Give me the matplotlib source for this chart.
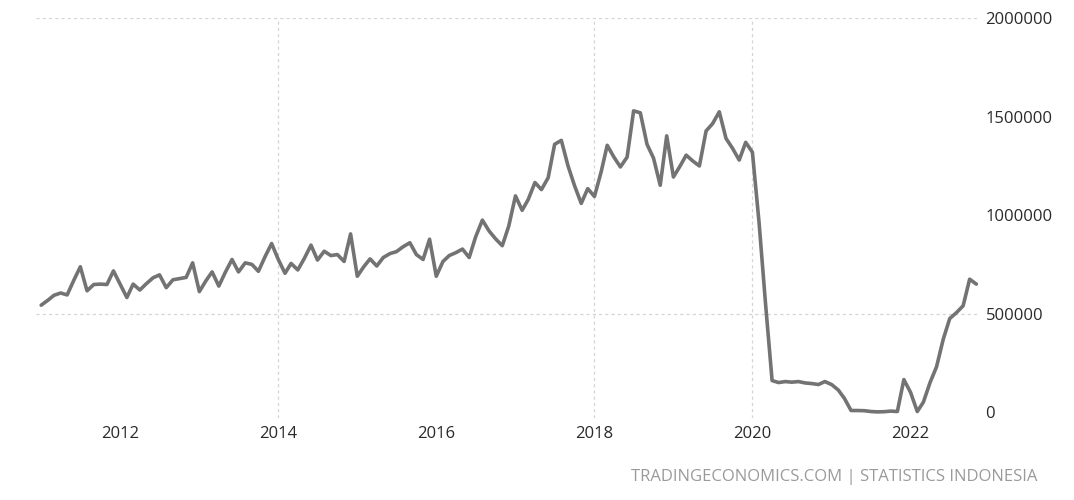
import numpy as np
import pandas as pd
import matplotlib
matplotlib.use('Agg')
import matplotlib.pyplot as plt
import matplotlib.dates as mdates

# monthly arrivals, Jan 2011 - Nov 2022 (thousands)
arrivals_k = [
    543, 568, 593, 605, 595, 670, 738, 616, 648, 650, 648, 717,    # 2011
    650, 582, 650, 620, 652, 682, 697, 632, 672, 678, 684, 758,    # 2012
    612, 668, 712, 640, 710, 775, 712, 758, 750, 715, 790, 856,    # 2013
    775, 705, 755, 722, 780, 848, 772, 817, 795, 800, 765, 905,    # 2014
    690, 740, 778, 742, 785, 805, 815, 840, 860, 800, 775, 878,    # 2015
    690, 765, 795, 810, 828, 785, 890, 975, 920, 880, 845, 945,    # 2016
    1098, 1025, 1080, 1166, 1130, 1190, 1360, 1380, 1250, 1150, 1060, 1135,  # 2017
    1095, 1220, 1355, 1295, 1245, 1295, 1530, 1520, 1360, 1290, 1152, 1403,  # 2018
    1194, 1250, 1305, 1275, 1250, 1428, 1465, 1525, 1390, 1340, 1280, 1370,  # 2019
    1320, 960, 560, 160, 150, 155, 152, 155, 148, 145, 140, 155,   # 2020
    140, 112, 70, 8, 8, 7, 3, 1, 2, 5, 3, 165,                      # 2021
    100, 3, 50, 150, 230, 370, 475, 505, 540, 675, 650,             # 2022
]
dates = pd.date_range('2011-01-01', periods=len(arrivals_k), freq='MS')
values = np.array(arrivals_k) * 1000

y_ticks = [0, 500000, 1000000, 1500000, 2000000]
y_grid = [500000, 2000000]
x_tick_years = [2012, 2014, 2016, 2018, 2020, 2022]
x_grid_years = [2014, 2018, 2020]
source = 'TRADINGECONOMICS.COM | STATISTICS INDONESIA'

plt.rcParams['font.family'] = ['Open Sans', 'DejaVu Sans']

fig = plt.figure(figsize=(10.74, 5.0), dpi=100)
ax = fig.add_axes([0.0335, 0.164, 0.879, 0.7994])

ax.plot(dates, values, color='#737373', lw=2.6, solid_joinstyle='round',
        solid_capstyle='round')

ax.set_ylim(-30000, 2000000)
ax.set_xlim(pd.Timestamp('2010-12-08'), pd.Timestamp('2022-11-18'))

ax.set_yticks(y_ticks)
ax.set_yticklabels([str(v) for v in y_ticks])
ax.yaxis.tick_right()
ax.set_xticks([pd.Timestamp(f'{y}-01-01') for y in x_tick_years])
ax.xaxis.set_major_formatter(mdates.DateFormatter('%Y'))
ax.tick_params(axis='both', length=0, labelsize=12, labelcolor='#2a2a2a')
ax.tick_params(axis='x', pad=6)
ax.tick_params(axis='y', pad=4)
for lab in ax.get_yticklabels():
    lab.set_horizontalalignment('left')

for s in ax.spines.values():
    s.set_visible(False)

for g in y_grid:
    ax.axhline(g, color='#d4d4d4', lw=0.9, ls=(0, (2.5, 2.5)), zorder=0)
for yr in x_grid_years:
    ax.axvline(pd.Timestamp(f'{yr}-01-01'), color='#d4d4d4', lw=0.9,
               ls=(0, (2.5, 2.5)), zorder=0)

fig.text(0.9655, 0.046, source, ha='right', va='center', fontsize=12,
         color='#9a9a9a')

fig.savefig('out.png', dpi=100, facecolor='white')
